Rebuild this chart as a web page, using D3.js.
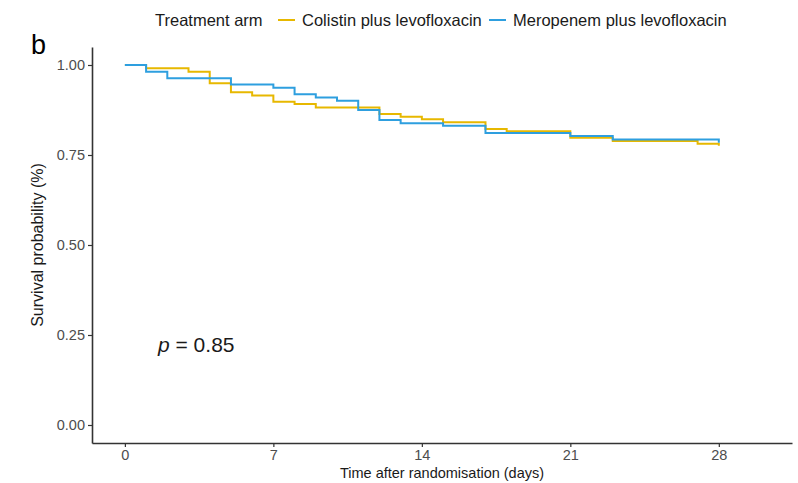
<!DOCTYPE html>
<html>
<head>
<meta charset="utf-8">
<script src="https://cdn.jsdelivr.net/npm/d3@7"></script>
<style>
	body { margin: 0; background: #fff; }
	svg { display: block; font-family: "Liberation Sans", Arial, sans-serif; }
</style>
</head>
<body>
<svg id="chart" width="798" height="483"></svg>
<script>
// Kaplan-Meier steps
var colistinTime = [0, 1, 3, 4, 5, 6, 7, 8, 9, 12, 13, 14, 15, 17, 18, 21, 23, 27, 28];
var colistinSurv = [1.0, 0.991, 0.981, 0.949, 0.924, 0.915, 0.898, 0.892, 0.882, 0.864, 0.856, 0.849, 0.841, 0.822, 0.816, 0.798, 0.789, 0.781, 0.776];

var meropenemTime = [0, 1, 2, 5, 7, 8, 9, 10, 11, 12, 13, 15, 17, 21, 23, 28];
var meropenemSurv = [1.0, 0.981, 0.963, 0.946, 0.937, 0.919, 0.910, 0.901, 0.875, 0.847, 0.838, 0.831, 0.811, 0.803, 0.793, 0.784];

var seriesNames = ["Colistin plus levofloxacin", "Meropenem plus levofloxacin"];
var seriesColors = ["#E7B800", "#2E9FDF"];

var xTicks = [0, 7, 14, 21, 28];
var yTicks = [0, 0.25, 0.5, 0.75, 1];

var svg = d3.select("#chart");

var panel = { left: 92, right: 792, top: 47, bottom: 443 };

var x = d3.scaleLinear()
	.domain([-1.55, 31.45])
	.range([panel.left, panel.right]);

var y = d3.scaleLinear()
	.domain([-0.05, 1.05])
	.range([panel.bottom, panel.top]);

var series = [
	{ name: seriesNames[0], color: seriesColors[0], points: colistinTime.map(function(t, i) { return [t, colistinSurv[i]]; }) },
	{ name: seriesNames[1], color: seriesColors[1], points: meropenemTime.map(function(t, i) { return [t, meropenemSurv[i]]; }) }
];

// Axes
var xAxis = svg.append("g")
	.attr("transform", "translate(0," + panel.bottom + ")")
	.call(d3.axisBottom(x).tickValues(xTicks).tickSize(4).tickPadding(3).tickSizeOuter(0));

var yAxis = svg.append("g")
	.attr("transform", "translate(" + panel.left + ",0)")
	.call(d3.axisLeft(y).tickValues(yTicks).tickFormat(d3.format(".2f")).tickSize(4).tickPadding(3).tickSizeOuter(0));

[xAxis, yAxis].forEach(function(g) {
	g.select(".domain").attr("stroke", "#333").attr("stroke-width", 1.6);
	g.selectAll(".tick line").attr("stroke", "#333").attr("stroke-width", 1.2);
	g.selectAll(".tick text")
		.attr("fill", "#4d4d4d")
		.style("font-size", "14.5px")
		.style("font-family", "'Liberation Sans', Arial, sans-serif");
});

// Step lines
var line = d3.line()
	.x(function(d) { return x(d[0]); })
	.y(function(d) { return y(d[1]); })
	.curve(d3.curveStepAfter);

svg.append("g")
	.attr("class", "curves")
	.selectAll("path")
	.data(series)
	.enter()
	.append("path")
	.attr("d", function(d) { return line(d.points); })
	.attr("fill", "none")
	.attr("stroke", function(d) { return d.color; })
	.attr("stroke-width", 2);

// Axis titles
svg.append("text")
	.attr("x", (panel.left + panel.right) / 2)
	.attr("y", 478)
	.attr("text-anchor", "middle")
	.attr("fill", "#1a1a1a")
	.style("font-size", "14.5px")
	.text("Time after randomisation (days)");

svg.append("text")
	.attr("transform", "translate(43," + y(0.5) + ") rotate(-90)")
	.attr("text-anchor", "middle")
	.attr("fill", "#1a1a1a")
	.style("font-size", "16px")
	.text("Survival probability (%)");

// p value
var pText = svg.append("text")
	.attr("x", 158)
	.attr("y", 352)
	.attr("fill", "#1a1a1a")
	.style("font-size", "21px");
pText.append("tspan").style("font-style", "italic").text("p");
pText.append("tspan").text(" = 0.85");

// Panel letter
svg.append("text")
	.attr("x", 31)
	.attr("y", 54)
	.attr("fill", "#000")
	.style("font-size", "27px")
	.text("b");

// Legend
var legend = svg.append("g").attr("class", "legend");

legend.append("text")
	.attr("x", 155)
	.attr("y", 26)
	.attr("fill", "#1a1a1a")
	.style("font-size", "16.5px")
	.text("Treatment arm");

var keyX = [278, 489];
var items = legend.selectAll("g.item")
	.data(series)
	.enter()
	.append("g")
	.attr("class", "item")
	.attr("transform", function(d, i) { return "translate(" + keyX[i] + ",0)"; });

items.append("line")
	.attr("x1", 0)
	.attr("x2", 17)
	.attr("y1", 20)
	.attr("y2", 20)
	.attr("stroke", function(d) { return d.color; })
	.attr("stroke-width", 2);

items.append("text")
	.attr("x", 24)
	.attr("y", 26)
	.attr("fill", "#1a1a1a")
	.style("font-size", "16.5px")
	.text(function(d) { return d.name; });
</script>
</body>
</html>
